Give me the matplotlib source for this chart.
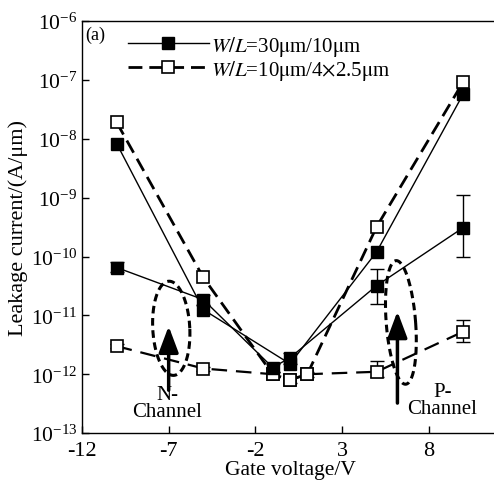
import matplotlib
matplotlib.use('Agg')
import matplotlib.pyplot as plt
from matplotlib.lines import Line2D
import numpy as np

plt.rcParams['font.family'] = ['Liberation Serif', 'DejaVu Serif']
plt.rcParams['mathtext.fontset'] = 'stix'
plt.rcParams['axes.unicode_minus'] = False

# series: W/L=30um/10um (filled) and W/L=10um/4x2.5um (open), two measurements each
xa = [-10, -5, 0, 5, 10]
ya = [8.3e-9, 1.25e-11, 1.5e-12, 1.2e-10, 5.8e-8]

xb = [-10, -5, -1, 0, 5, 10]
yb = [6.5e-11, 1.85e-11, 1.3e-12, 1.9e-12, 3.2e-11, 3.1e-10]
yb_lo = [5.5e-11, 1.5e-11, 1.1e-12, 1.5e-12, 1.55e-11, 1.0e-10]
yb_hi = [8.0e-11, 2.2e-11, 1.5e-12, 2.3e-12, 6.2e-11, 1.1e-9]

xc = [-10, -5, -1, 0, 1, 5, 10]
yc = [1.9e-8, 4.4e-11, 1.0e-12, 8.0e-13, 1.0e-12, 3.2e-10, 9.3e-8]

xd = [-10, -5, -1, 0, 1, 5, 10]
yd = [3.0e-12, 1.25e-12, 1.0e-12, 8.0e-13, 1.0e-12, 1.1e-12, 5.3e-12]
yd_lo = [2.8e-12, 1.15e-12, 0.9e-12, 7.0e-13, 0.9e-12, 0.9e-12, 3.5e-12]
yd_hi = [3.3e-12, 1.35e-12, 1.1e-12, 9.0e-13, 1.1e-12, 1.7e-12, 8.5e-12]

labels = [r'$W/L$=30$\mathrm{\mu}$m/10$\mathrm{\mu}$m',
          r'$W/L$=10$\mathrm{\mu}$m/4$\times$2.5$\mathrm{\mu}$m']

fig = plt.figure(figsize=(4.94, 4.85), dpi=100)
ax = fig.add_axes([0.166, 0.105, 0.842, 0.8495])

dash = (0, (5, 2.5))
ms = 8.5

ax.plot(xa, ya, '-', color='black', lw=1.0, marker='s', ms=ms, mfc='black', mec='black')
ax.errorbar(xb, yb, yerr=[np.array(yb) - np.array(yb_lo), np.array(yb_hi) - np.array(yb)],
            fmt='-', color='black', lw=1.0, marker='s', ms=ms, mfc='black', mec='black',
            capsize=5, elinewidth=1.0)
ax.plot(xc, yc, color='black', lw=2.0, linestyle=dash, marker='s', ms=ms,
        mfc='white', mec='black', mew=1.2)
ax.errorbar(xd, yd, yerr=[np.array(yd) - np.array(yd_lo), np.array(yd_hi) - np.array(yd)],
            fmt='none', ecolor='black', elinewidth=1.0, capsize=5)
ax.plot(xd, yd, color='black', lw=1.6, linestyle=(0, (7, 4)), marker='s', ms=ms,
        mfc='white', mec='black', mew=1.2)

# dashed ellipses marking the channel regions (x centre, log10 y centre, half widths, tilt)
t = np.linspace(0, 2 * np.pi, 200)
for xc0, yc0, a, b, tilt in [(-6.85, -11.22, 1.07, 0.80, 0.15), (6.4, -11.12, 0.85, 1.05, 0.25)]:
    ey = yc0 + b * np.sin(t)
    ex = xc0 + a * np.cos(t) - tilt * (ey - yc0)
    ax.plot(ex, 10 ** ey, color='black', lw=2.2, linestyle=(0, (2.5, 1.5)))

arrow = dict(arrowstyle='-|>,head_length=1.6,head_width=0.6', color='black', lw=2.5)
ax.annotate('', xy=(-7, 7.3e-12), xytext=(-7, 4.8e-13), arrowprops=arrow)
ax.annotate('', xy=(6.2, 1.3e-11), xytext=(6.2, 2.9e-13), arrowprops=arrow)
ax.text(-7.1, 3.2e-13, 'N-\nChannel', ha='center', va='center', fontsize=15, linespacing=0.85)
ax.text(8.8, 3.6e-13, 'P-\nChannel', ha='center', va='center', fontsize=15, linespacing=0.85)
ax.text(0.008, 0.99, '(a)', transform=ax.transAxes, ha='left', va='top', fontsize=13)

handles = [Line2D([], [], color='black', lw=1.0, marker='s', ms=ms, mfc='black', mec='black'),
           Line2D([], [], color='black', lw=2.0, linestyle=(0, (5, 2.5)), marker='s', ms=ms,
                  mfc='white', mec='black', mew=1.2)]
ax.legend(handles, labels, loc='upper left', bbox_to_anchor=(0.065, 1.015), frameon=False,
          fontsize=15, handlelength=3.9, handletextpad=0.1, labelspacing=0.0)

ax.set_yscale('log')
ax.set_xlim(-12, 12)
ax.set_ylim(1e-13, 1e-6)
ax.set_xticks([-12, -7, -2, 3, 8])
ax.set_yticks([10.0 ** k for k in range(-13, -5)])
ax.minorticks_off()
ax.tick_params(direction='in', length=5, width=1.0, labelsize=16)
ax.tick_params(axis='x', pad=6)
ax.tick_params(axis='y', labelsize=15.5)
ax.spines['right'].set_visible(False)
for s in ['left', 'bottom', 'top']:
    ax.spines[s].set_linewidth(1.0)
ax.set_xlabel('Gate voltage/V', fontsize=15.5, labelpad=0)
ax.set_ylabel('Leakage current/(A/\u03bcm)', fontsize=16, labelpad=2)

fig.savefig('out.png', dpi=100)
